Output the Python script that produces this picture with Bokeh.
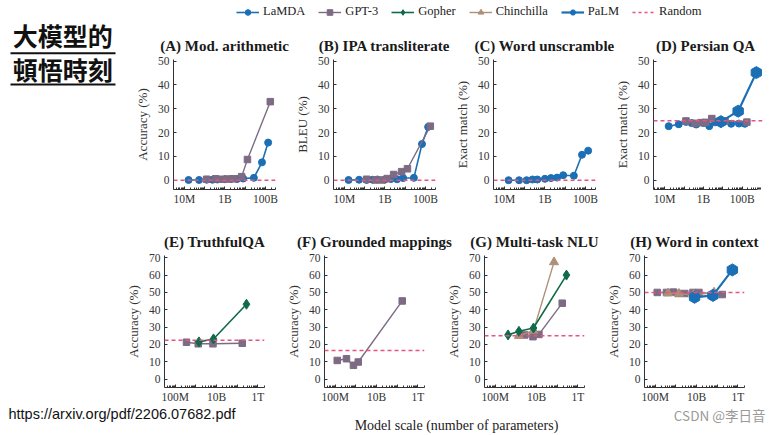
import json, math
from bokeh.plotting import figure
from bokeh.layouts import row, column
from bokeh.models import Range1d, FixedTicker, CustomJSTickFormatter, Span, Legend, LegendItem
from bokeh.embed import file_html
from bokeh.resources import INLINE
from bokeh.core.properties import value

# ---------------- data ----------------
LAMDA_N = [16e6, 53e6, 125e6, 244e6, 422e6, 1e9, 2e9, 4e9, 8e9, 27e9, 68e9, 137e9]
GPT3_N = [125e6, 350e6, 760e6, 1.3e9, 2.7e9, 6.7e9, 13e9, 175e9]
PALM_N = [8e9, 62e9, 540e9]

A_LAMDA = [0.1, 0.1, 0.2, 0.2, 0.3, 0.4, 0.5, 0.5, 0.7, 1.0, 7.5, 15.8]
A_GPT3 = [0.4, 0.6, 0.4, 0.5, 0.6, 1.5, 8.7, 33.0]
B_LAMDA = [0.1, 0.2, 0.1, 0.2, 0.3, 0.3, 0.5, 0.4, 0.9, 1.0, 15.2, 22.4]
B_GPT3 = [0.4, 0.1, 0.1, 0.7, 2.4, 3.6, 4.8, 22.7]
C_LAMDA = [0.0, 0.0, 0.0, 0.3, 0.3, 0.6, 0.9, 1.1, 2.1, 1.9, 10.7, 12.4]
D_LAMDA = [22.7, 23.5, 24.5, 24.0, 23.4, 24.0, 22.7, 24.3, 25.1, 23.7, 23.8, 23.7]
D_GPT3 = [24.9, 23.9, 24.2, 24.3, 25.9, 24.6, 24.9, 24.4]
D_PALM = [24.6, 29.0, 45.2]

E_GPT3_N = [350e6, 1.3e9, 6.7e9, 175e9]
E_GPT3 = [21.3, 20.4, 20.4, 20.7]
E_GOPHER_N = [1.4e9, 7.1e9, 280e9]
E_GOPHER = [21.5, 23.2, 43.2]
F_GPT3_N = [125e6, 350e6, 760e6, 1.3e9, 175e9]
F_GPT3 = [10.8, 11.8, 8.0, 9.9, 45.1]
G_GOPHER_N = [417e6, 1.4e9, 7.1e9, 280e9]
G_GOPHER = [25.5, 27.6, 29.5, 60.0]
G_CHINCHILLA_N = [1.4e9, 7.1e9, 70e9]
G_CHINCHILLA = [25.0, 28.0, 67.5]
G_GPT3_N = [2.7e9, 6.7e9, 13e9, 175e9]
G_GPT3 = [25.5, 24.5, 25.8, 43.8]
H_GPT3 = [50.0, 50.0, 50.2, 49.4, 49.4, 50.0, 50.0, 48.8]
H_CHINCHILLA_N = [417e6, 1.4e9, 7.1e9, 70e9]
H_CHINCHILLA = [49.5, 49.3, 48.5, 50.0]
H_PALM = [47.2, 48.3, 63.0]

RANDOM = {"A": 0, "B": 0, "C": 0, "D": 25, "E": 22.4, "F": 16.5, "G": 25, "H": 50}

TITLES = {"A": "(A) Mod. arithmetic", "B": "(B) IPA transliterate", "C": "(C) Word unscramble",
          "D": "(D) Persian QA", "E": "(E) TruthfulQA", "F": "(F) Grounded mappings",
          "G": "(G) Multi-task NLU", "H": "(H) Word in context"}
YLABELS = {"A": "Accuracy (%)", "B": "BLEU (%)", "C": "Exact match (%)", "D": "Exact match (%)",
           "E": "Accuracy (%)", "F": "Accuracy (%)", "G": "Accuracy (%)", "H": "Accuracy (%)"}

TOP_TICKS = [1e7, 1e9, 1e11]
TOP_TICK_LABELS = ["10M", "1B", "100B"]
BOTTOM_TICKS = [1e8, 1e10, 1e12]
BOTTOM_TICK_LABELS = ["100M", "10B", "1T"]
TOP_Y_TICKS = [0, 10, 20, 30, 40, 50]
BOTTOM_Y_TICKS = [0, 10, 20, 30, 40, 50, 60, 70]

LEGEND_NAMES = ["LaMDA", "GPT-3", "Gopher", "Chinchilla", "PaLM", "Random"]

# ---------------- styles ----------------
STYLE = {
    "LaMDA": dict(color="#1b6fb5", marker="circle", size=7, lw=1.6, angle=0),
    "GPT-3": dict(color="#7d6b84", marker="square", size=6.5, lw=1.4, angle=0),
    "Gopher": dict(color="#116b4a", marker="diamond", size=10, lw=1.6, angle=0),
    "Chinchilla": dict(color="#ae8f78", marker="triangle", size=9, lw=1.4, angle=0),
    "PaLM": dict(color="#1b6fb5", marker="hex", size=12, lw=2.2, angle=math.pi / 6),
}
RANDOM_COLOR = "#e6557f"
AX_COLOR = "#333333"
SERIF = "Liberation Serif"

TOP = dict(xr=(10 ** 6.46, 10 ** 11.5), yr=(-3.9, 50.7), fw=102, fh=130, bl=55, br=3, bt=5, bb=20,
           ticks=TOP_TICKS, labels=TOP_TICK_LABELS, yticks=TOP_Y_TICKS, dec=(6, 12))
BOT = dict(xr=(10 ** 7.48, 10 ** 12.32), yr=(-4.8, 71.3), fw=100, fh=133, bl=46, br=14, bt=5, bb=17,
           ticks=BOTTOM_TICKS, labels=BOTTOM_TICK_LABELS, yticks=BOTTOM_Y_TICKS, dec=(7, 13))

LEFT_W = 118
RIGHT_W = 661


def tick_formatter(ticks, labels):
    m = {str(int(round(math.log10(t)))): l for t, l in zip(ticks, labels)}
    return CustomJSTickFormatter(code="const m = %s; const k = String(Math.round(Math.log10(tick))); "
                                      "return (k in m) ? m[k] : '';" % json.dumps(m))


def panel(key, base, series, xr=None, fw=None, br=None, axis_end=None):
    xr = xr or base["xr"]
    fw = fw or base["fw"]
    br = base["br"] if br is None else br
    p = figure(width=base["bl"] + fw + br, height=base["bt"] + base["fh"] + base["bb"],
               x_axis_type="log", x_range=Range1d(*xr), y_range=Range1d(*base["yr"]),
               output_backend="svg", toolbar_location=None,
               min_border_left=base["bl"], min_border_right=br,
               min_border_top=base["bt"], min_border_bottom=base["bb"])
    p.outline_line_color = None
    p.grid.visible = False
    p.background_fill_color = "white"
    p.border_fill_color = "white"
    d0, d1 = base["dec"]
    decades = [10.0 ** d for d in range(d0, d1)]
    minors = [k * 10.0 ** d for d in range(d0 - 1, d1) for k in range(2, 10)]
    xa = p.xaxis[0]
    xa.ticker = FixedTicker(ticks=decades, minor_ticks=minors)
    xa.formatter = tick_formatter(base["ticks"], base["labels"])
    xa.bounds = (xr[0], axis_end or xr[1])
    ya = p.yaxis[0]
    ya.ticker = FixedTicker(ticks=base["yticks"], minor_ticks=[])
    ya.axis_label = YLABELS[key]
    ya.axis_label_text_font = SERIF
    ya.axis_label_text_font_size = "13px"
    ya.axis_label_text_font_style = "normal"
    ya.axis_label_text_color = AX_COLOR
    ya.axis_label_standoff = 5
    for ax in (xa, ya):
        ax.axis_line_color = AX_COLOR
        ax.major_tick_line_color = AX_COLOR
        ax.minor_tick_line_color = AX_COLOR
        ax.major_tick_in = 3
        ax.major_tick_out = 0
        ax.minor_tick_in = 2
        ax.minor_tick_out = 0
        ax.major_label_text_font = SERIF
        ax.major_label_text_font_size = "11.5px"
        ax.major_label_text_color = AX_COLOR
    xa.major_label_standoff = 3
    ya.major_label_standoff = 4
    p.add_layout(Span(location=RANDOM[key], dimension="width", line_color=RANDOM_COLOR,
                      line_dash="4 3", line_width=1.6))
    for name, xs, ys in series:
        st = STYLE[name]
        p.line(xs, ys, line_color=st["color"], line_width=st["lw"])
        p.scatter(xs, ys, marker=st["marker"], size=st["size"], angle=st["angle"],
                  fill_color=st["color"], line_color=st["color"])
    return p


# D needs a little room on the right for the last PaLM marker
D_XR = (10 ** 6.42, 10 ** 12.05)
D_AXIS_END = 10 ** 11.8
D_FW = 109

pA = panel("A", TOP, [("LaMDA", LAMDA_N, A_LAMDA), ("GPT-3", GPT3_N, A_GPT3)])
pB = panel("B", TOP, [("LaMDA", LAMDA_N, B_LAMDA), ("GPT-3", GPT3_N, B_GPT3)])
pC = panel("C", TOP, [("LaMDA", LAMDA_N, C_LAMDA)])
pD = panel("D", TOP, [("LaMDA", LAMDA_N, D_LAMDA), ("GPT-3", GPT3_N, D_GPT3), ("PaLM", PALM_N, D_PALM)],
           xr=D_XR, fw=D_FW, br=2, axis_end=D_AXIS_END)
pE = panel("E", BOT, [("GPT-3", E_GPT3_N, E_GPT3), ("Gopher", E_GOPHER_N, E_GOPHER)])
pF = panel("F", BOT, [("GPT-3", F_GPT3_N, F_GPT3)])
pG = panel("G", BOT, [("GPT-3", G_GPT3_N, G_GPT3), ("Chinchilla", G_CHINCHILLA_N, G_CHINCHILLA),
                      ("Gopher", G_GOPHER_N, G_GOPHER)])
pH = panel("H", BOT, [("GPT-3", GPT3_N, H_GPT3), ("Chinchilla", H_CHINCHILLA_N, H_CHINCHILLA),
                      ("PaLM", PALM_N, H_PALM)], br=5)

top_figs = [("A", pA), ("B", pB), ("C", pC), ("D", pD)]
bot_figs = [("E", pE), ("F", pF), ("G", pG), ("H", pH)]


def plain(w, h):
    f = figure(width=w, height=h, x_range=Range1d(0, w), y_range=Range1d(h, 0),
               output_backend="svg", toolbar_location=None, min_border=0,
               x_axis_location=None, y_axis_location=None)
    f.outline_line_color = None
    f.grid.visible = False
    return f


def title_strip(figs, base, h, ty):
    s = plain(RIGHT_W, h)
    xs, texts = [], []
    off = 0
    for key, f in figs:
        if key == "D":
            axis_px = (math.log10(D_AXIS_END) - math.log10(D_XR[0])) / (math.log10(D_XR[1]) - math.log10(D_XR[0])) * D_FW
        else:
            axis_px = base["fw"]
        xs.append(off + base["bl"] + axis_px / 2)
        texts.append(TITLES[key])
        off += f.width
    s.text(x=xs, y=[ty] * len(xs), text=texts, text_align="center", text_baseline="middle",
           text_font=value(SERIF), text_font_style="bold", text_font_size="15px", text_color="#1a1a1a")
    return s


strip1 = title_strip(top_figs, TOP, 30, 21)
strip2 = title_strip(bot_figs, BOT, 41, 32.7)

# header legend (dummy renderers sit outside the visible range; only their legend icons show)
hdr = figure(width=RIGHT_W, height=24, x_range=Range1d(0, 1), y_range=Range1d(0, 1), output_backend="svg",
             toolbar_location=None, min_border=0, x_axis_location=None, y_axis_location=None)
hdr.outline_line_color = None
hdr.grid.visible = False
items = []
for name in LEGEND_NAMES:
    if name == "Random":
        r = hdr.line([-5, -4], [-5, -5], line_color=RANDOM_COLOR, line_dash="3 3", line_width=1.6)
        items.append(LegendItem(label=name, renderers=[r]))
    else:
        st = STYLE[name]
        r1 = hdr.line([-5, -4], [-5, -5], line_color=st["color"], line_width=st["lw"])
        r2 = hdr.scatter([-5], [-5], marker=st["marker"], size=min(st["size"], 10), angle=st["angle"],
                         fill_color=st["color"], line_color=st["color"])
        items.append(LegendItem(label=name, renderers=[r1, r2]))
leg = Legend(items=items, orientation="horizontal", location=(118, 5), glyph_width=23, glyph_height=14,
             label_height=14, label_standoff=4, spacing=13, padding=0, margin=0,
             border_line_color=None, background_fill_alpha=0,
             label_text_font=SERIF, label_text_font_size="12.5px", label_text_color="#222222")
hdr.add_layout(leg, "center")

# left column: Chinese title
LEFT_H = 24 + 30 + 155 + 41 + 155
left = plain(LEFT_W, LEFT_H)
left.text(x=[62.3, 62.3], y=[34.5, 68], text=["大模型的", "頓悟時刻"], text_align="center", text_baseline="middle",
          text_font=value("Noto Sans CJK TC"), text_font_style="bold", text_font_size="25px", text_color="#111111")
left.segment(x0=[10, 10], y0=[52.7, 84], x1=[115, 115], y1=[52.7, 84], line_color="#111111", line_width=2)

# footer
FOOT_W, FOOT_H = 779, 435 - LEFT_H
foot = plain(FOOT_W, FOOT_H)
foot.text(x=[8], y=[8], text=["https://arxiv.org/pdf/2206.07682.pdf"], text_align="left", text_baseline="middle",
          text_font=value("Liberation Sans"), text_font_size="14.5px", text_color="#111111")
foot.text(x=[456], y=[20], text=["Model scale (number of parameters)"], text_align="center",
          text_baseline="middle", text_font=value(SERIF), text_font_size="14px", text_color="#222222")
foot.text(x=[765], y=[9], text=["CSDN @李日音"], text_align="right", text_baseline="middle",
          text_font=value("Noto Sans CJK SC"), text_font_size="13.5px", text_color="#9a9a9a")

layout = column(row(left, column(hdr, strip1, row(pA, pB, pC, pD), strip2, row(pE, pF, pG, pH))),
                foot)

open("out.html", "w").write(file_html(layout, INLINE))
